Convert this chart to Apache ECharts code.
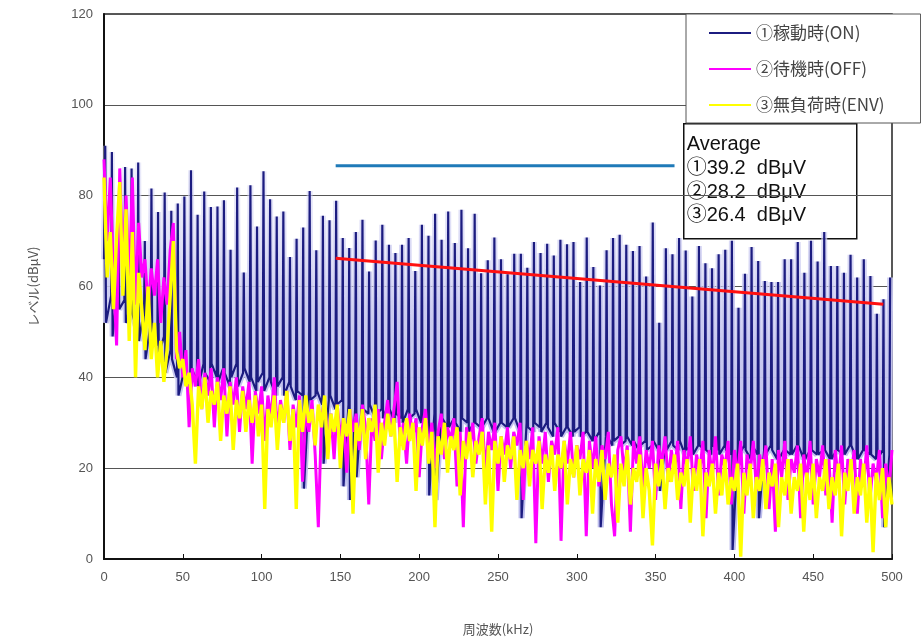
<!DOCTYPE html>
<html><head><meta charset="utf-8">
<script src="https://cdn.jsdelivr.net/npm/echarts@6/dist/echarts.min.js"></script>
<style>html,body{margin:0;padding:0;background:#fff}#c{width:921px;height:641px}</style>
</head><body><div id="c"></div>
<script>
// ---------------- DATA ----------------
const seriesNames = ['①稼動時(ON)', '②待機時(OFF)', '③無負荷時(ENV)'];
const avgTitle = 'Average';
const avgLabels = ['①39.2  dBμV', '②28.2  dBμV', '③26.4  dBμV'];
const xName = '周波数(kHz)';
const yName = 'レベル(dBμV)';

// ON: harmonic spikes (frequency kHz, peak level) and noise floor in each gap
const spikeFreq = [0.8,5.0,9.2,13.4,17.5,21.7,25.9,30.1,34.3,38.5,42.7,46.8,51.0,55.2,59.4,63.6,67.8,72.0,76.1,80.3,
84.5,88.7,92.9,97.1,101.2,105.4,109.6,113.8,118.0,122.2,126.4,130.5,134.7,138.9,143.1,147.3,151.5,155.6,159.8,164.0,
168.2,172.4,176.6,180.8,184.9,189.1,193.3,197.5,201.7,205.9,210.1,214.2,218.4,222.6,226.8,231.0,235.2,239.3,243.5,247.7,
251.9,256.1,260.3,264.5,268.6,272.8,277.0,281.2,285.4,289.6,293.8,297.9,302.1,306.3,310.5,314.7,318.9,323.0,327.2,331.4,
335.6,339.8,344.0,348.2,352.3,356.5,360.7,364.9,369.1,373.3,377.5,381.6,385.8,390.0,394.2,398.4,402.6,406.7,410.9,415.1,
419.3,423.5,427.7,431.9,436.0,440.2,444.4,448.6,452.8,457.0,461.2,465.3,469.5,473.7,477.9,482.1,486.3,490.4,494.6,498.8];
const spikePeak = [91,89.6,72,86.3,86,87.3,70,81.6,76.4,80.7,76.7,78.3,79.8,85.6,75.8,80.9,77.5,77.6,79,68.1,
81.8,63.1,82.3,73.2,85.4,79.2,75.4,76.5,66.5,70.5,73,81,68,75.6,74.6,78.9,70.7,68.5,72,74.7,
63.3,70.1,73.6,69.2,67.4,69.2,70.7,63.4,73.6,71.2,76,70.3,76.5,69.6,76.9,68.4,76,62.9,65.8,70.8,
66,62.7,67.2,67.2,64.1,69.8,67.4,69.4,66.8,70.3,69.3,69.8,61,70.8,64.3,60.2,68,70.7,71.4,69.2,
67.8,68.9,62.2,74.1,52,68.4,67.1,70.7,67.9,57.8,68.9,65.1,64,67.1,68.1,70.1,55.3,62.8,68.7,65.6,
61.2,61,61,66,66,69.8,63,70.1,65.5,72,64.5,64.5,63,67,62,66,62.3,54,57.2,62];
const gapLowA = [52,49,55,52,54,48,44,50,45,41,44,36,40,42,38,41,43,39,41,40,
38,42,40,39,37,39,38,36,38,37,15.5,35,37,21,36,34,16,13,18,33,
34,32,31,33,32,30,31,33,30,14,13,31,29,30,31,28,30,29,31,28,
30,29,31,9,29,30,28,29,30,27,29,28,27,28,26,7,27,26,25,27,
26,25,24,26,15,24,25,26,24,23,25,24,25,23,24,2,23,24,25,9,
23,24,22,24,23,25,22,24,23,24,22,24,23,25,22,24,23,22,7];
const gapLowB = [58,60,57,56,50,55,52,47,49,46,40,41,38,39,43,39,40,42,38,43,
41,39,37,41,40,36,40,39,35,36,37,36,34,35,33,35,34,33,34,32,
31,33,34,30,31,33,32,30,31,32,30,29,31,28,30,30,29,31,28,30,
29,31,28,30,28,29,30,27,28,29,27,29,28,26,28,27,25,27,26,25,
24,26,25,24,25,26,24,23,25,25,24,23,24,25,23,24,25,22,23,24,
25,22,24,23,25,22,24,23,24,22,24,23,25,22,24,23,22,24,23];
const onStart = [0, 66];

// OFF and ENV: levels sampled every 2 kHz from 0 to 500 kHz
const sampleStep = 2;
const offLevel = [88,70,84,62,47,86,64,80,60,84,
56,74,62,66,55,64,58,66,52,62,
56,68,74,44,50,40,46,29,42,38,
44,33,41,36,42,29,40,35,42,27,
39,34,40,28,38,33,39,21,37,32,
38,26,36,31,40,28,35,30,37,24,
34,29,36,17,33,28,35,23,7,31,
35,26,32,22,34,27,31,19,33,28,
32,24,34,29,12,31,26,33,22,30,
35,27,33,39,25,30,21,32,27,31,
18,29,33,24,30,20,28,32,22,29,
26,31,16,28,7,29,24,30,21,27,
31,19,28,24,30,15,27,23,29,20,
28,25,30,13,26,22,29,3.5,27,21,
28,17,26,23,29,4,26,21,28,18,
25,22,28,5,26,20,27,16,25,22,
28,12,5,24,27,19,25,6,26,21,
27,15,24,20,26,13,25,21,27,17,
24,19,26,11,24,20,27,15,23,19,
26,9,24,18,27,14,23,20,26,12,
24,18,26,10,23,19,26,15,23,19,
25,11,22,6,24,18,26,13,22,19,
25,9,23,17,26,12,22,18,25,14,
22,8,24,17,25,12,22,18,24,10,
22,16,25,13,21,17,24,9,21,15,
24];
const envLevel = [84,62,72,55,71,83,58,77,48,72,
40,63,55,46,60,44,52,40,48,39,
46,58,70,46,42,44,38,41,34,21,
38,33,40,30,37,34,39,26,36,32,
38,24,35,31,37,28,35,30,36,27,
34,11,33,29,36,24,34,30,37,26,
33,11,35,28,36,30,33,25,34,29,
36,22,32,28,34,20,31,27,33,10,
30,26,33,22,31,28,34,19,30,25,
32,27,31,17,29,24,31,26,30,15,
29,25,31,21,28,7,27,23,30,19,
27,24,29,14,26,22,28,18,26,23,
28,12,25,6,26,21,27,17,25,22,
27,13,24,20,26,16,24,21,26,11,
23,19,25,15,23,20,26,12,22,18,
25,14,22,19,24,10,22,17,24,13,
21,18,23,8,21,16,24,12,20,17,
23,9,20,15,3,21,16,22,11,20,
17,23,13,19,16,22,8,20,15,22,
5,19,16,21,10,19,14,22,12,18,
15,21,0.5,19,14,21,9,18,15,22,
11,19,16,21,7,18,14,22,10,18,
15,21,6,19,13,21,9,18,15,22,
11,18,14,21,5,19,15,22,10,18,
14,21,8,18,1.5,19,13,20,7,18,
12];

// annotation lines [kHz, level]
const blueLine = [[147, 86.6], [362, 86.6]];
const redLine = [[147, 66.2], [494.5, 56.1]];

// ---------------- BUILD ----------------
const TROUGH_OFFSET = 0.45; // kHz either side of a spike
const onData = [onStart];
for (let k = 0; k < spikeFreq.length; k++) {
  onData.push([spikeFreq[k], spikePeak[k]]);
  if (k < gapLowA.length) {
    onData.push([spikeFreq[k] + TROUGH_OFFSET, gapLowA[k]]);
    onData.push([spikeFreq[k + 1] - TROUGH_OFFSET, gapLowB[k]]);
  }
}
const offData = offLevel.map((v, i) => [i * sampleStep, v]);
const envData = envLevel.map((v, i) => [i * sampleStep, v]);

const FONT = '"Liberation Sans", Arial, sans-serif';
const JFONT = '"Noto Sans CJK JP", sans-serif';
const NAVY = '#1c1c80', MAG = '#ff00ff', YEL = '#ffff00';
const haloGrad = new echarts.graphic.LinearGradient(0, 0, 0, 1, [
  {offset: 0, color: 'rgba(215,215,245,0.4)'},
  {offset: 0.4, color: 'rgba(200,200,240,0.95)'},
  {offset: 1, color: 'rgba(185,185,235,1)'}
]);

const chart = echarts.init(document.getElementById('c'), null, {renderer: 'canvas'});
chart.setOption({
  animation: false,
  backgroundColor: '#fff',
  grid: {left: 104, top: 14, right: 29, bottom: 77, show: true, borderColor: '#222', borderWidth: 1.5, backgroundColor: 'transparent'},
  xAxis: {
    type: 'value', min: 0, max: 500, interval: 50,
    axisLine: {lineStyle: {color: '#111', width: 2}},
    axisTick: {inside: true, length: 5, lineStyle: {color: '#111', width: 1}},
    axisLabel: {color: '#555', fontSize: 13, fontFamily: FONT, margin: 12},
    splitLine: {show: false},
    name: xName, nameLocation: 'middle', nameGap: 64,
    nameTextStyle: {color: '#555', fontSize: 13, fontFamily: JFONT}
  },
  yAxis: {
    type: 'value', min: 0, max: 120, interval: 20,
    axisLine: {show: true, lineStyle: {color: '#111', width: 2}},
    axisTick: {show: false},
    axisLabel: {color: '#555', fontSize: 13, fontFamily: FONT, margin: 11},
    splitLine: {lineStyle: {color: '#555', width: 1}},
    name: yName, nameLocation: 'middle', nameGap: 64,
    nameTextStyle: {color: '#555', fontSize: 13, fontFamily: JFONT}
  },
  legend: {
    data: seriesNames, orient: 'vertical', left: 686, top: 14,
    icon: 'rect', itemWidth: 42, itemHeight: 2, itemGap: 16,
    padding: [9, 36, 8, 23],
    backgroundColor: '#fff', borderColor: '#555', borderWidth: 1,
    textStyle: {color: '#444', fontSize: 17, lineHeight: 20, fontFamily: JFONT},
    z: 50
  },
  graphic: [{
    type: 'group', left: 683, top: 123, z: 100,
    children: [
      {type: 'rect', shape: {x: 0, y: 0, width: 173, height: 115},
       style: {fill: '#fff', stroke: '#111', lineWidth: 1.5}},
      {type: 'text', style: {x: 3, y: 9, text: [avgTitle].concat(avgLabels).join('\n'),
        font: '20px "Liberation Sans", "Noto Sans CJK JP", sans-serif', lineHeight: 23.7, fill: '#111'}}
    ]
  }],
  series: [
    {name: 'onHalo', type: 'line', data: onData, symbol: 'none', z: 1, silent: true,
     lineStyle: {color: haloGrad, width: 6}},
    {name: seriesNames[0], type: 'line', data: onData, symbol: 'none', z: 2,
     lineStyle: {color: NAVY, width: 2.2}, itemStyle: {color: NAVY}},
    {name: seriesNames[1], type: 'line', data: offData, symbol: 'none', z: 3,
     lineStyle: {color: MAG, width: 3}, itemStyle: {color: MAG}},
    {name: seriesNames[2], type: 'line', data: envData, symbol: 'none', z: 4,
     lineStyle: {color: YEL, width: 3.4}, itemStyle: {color: YEL}},
    {name: 'avgBlue', type: 'line', data: blueLine, symbol: 'none', z: 5,
     lineStyle: {color: '#1f7ab8', width: 3}},
    {name: 'trendRed', type: 'line', data: redLine, symbol: 'none', z: 5,
     lineStyle: {color: '#ff1010', width: 3}}
  ]
});
</script>
</body></html>
